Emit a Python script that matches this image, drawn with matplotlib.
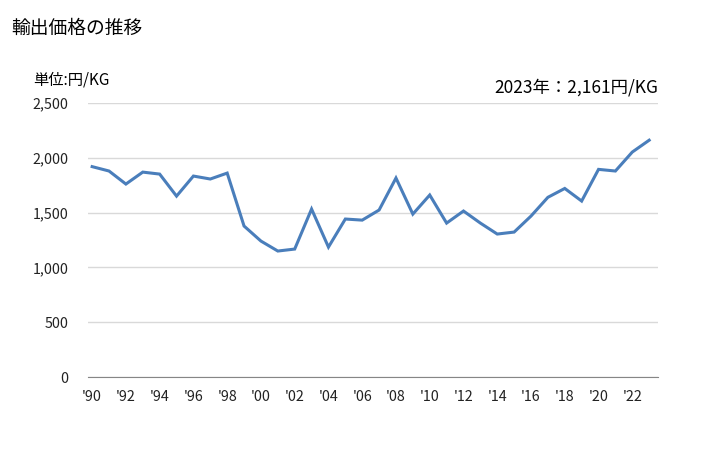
#! /usr/bin/env python3

'''export price trend line chart'''

import matplotlib
matplotlib.use('Agg')
import matplotlib.pyplot as plt
from matplotlib.ticker import FuncFormatter

plt.rcParams['font.family'] = ['Noto Sans CJK JP', 'DejaVu Sans']

# data
years = list(range(1990, 2024))
prices = [1920, 1880, 1761, 1870, 1852, 1651, 1834, 1807, 1861, 1378,
          1241, 1150, 1168, 1533, 1186, 1442, 1432, 1524, 1816, 1487,
          1661, 1405, 1515, 1405, 1305, 1323, 1469, 1640, 1721, 1606,
          1895, 1880, 2053, 2161]
xticks = list(range(1990, 2024, 2))
yticks = [0, 500, 1000, 1500, 2000, 2500]

fig = plt.figure(figsize=(7.28, 4.5), dpi=100)
ax = fig.add_axes([0.121, 0.162, 0.783, 0.609])

ax.plot(years, prices, color='#4a7ebb', linewidth=2.2, solid_joinstyle='miter')

ax.set_xlim(1989.76, 2023.53)
ax.set_ylim(0, 2500)
ax.set_yticks(yticks)
ax.set_xticks(xticks)
ax.set_xticklabels(["'{:02d}".format(y % 100) for y in xticks])
ax.yaxis.set_major_formatter(FuncFormatter(lambda v, p: '{:,.0f}'.format(v)))
ax.grid(axis='y', color='#d9d9d9', linewidth=1)
ax.set_axisbelow(True)
for s in ['left', 'right', 'top']:
    ax.spines[s].set_visible(False)
ax.spines['bottom'].set_color('#868686')
ax.tick_params(axis='both', length=0, labelsize=10.3, colors='#222222')
ax.tick_params(axis='x', pad=9)
ax.tick_params(axis='y', pad=14)

fig.text(0.016, 0.937, '輸出価格の推移', fontsize=13.5, va='center', ha='left')
fig.text(0.045, 0.822, '単位:円/KG', fontsize=11, va='center', ha='left')
fig.text(0.904, 0.806, '2023年：2,161円/KG', fontsize=12.5, va='center', ha='right')

fig.savefig('out.png', dpi=100)
